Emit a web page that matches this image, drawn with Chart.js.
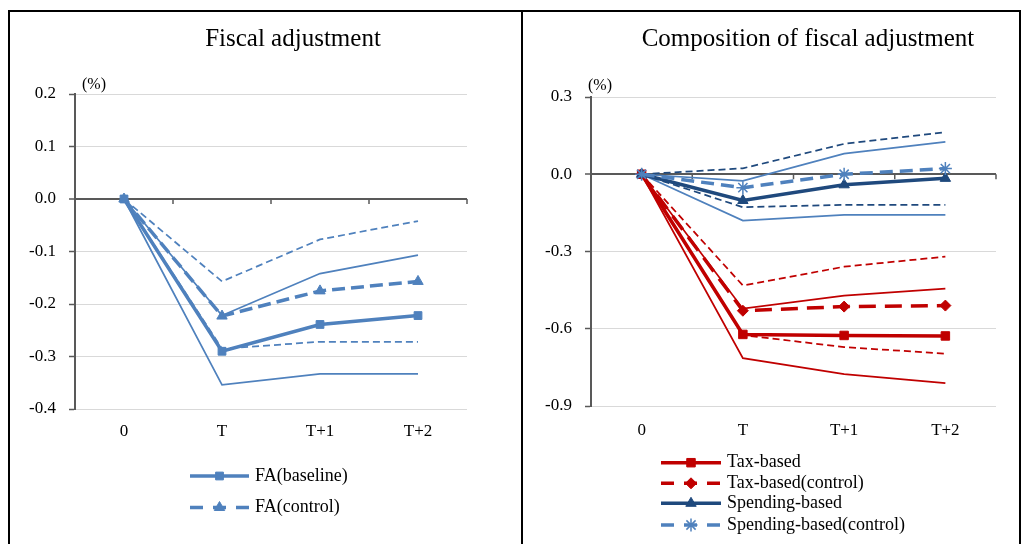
<!DOCTYPE html>
<html>
<head>
<meta charset="utf-8">
<script src="https://cdn.jsdelivr.net/npm/chart.js@4.4.0/dist/chart.umd.min.js"></script>
<style>
  body { margin: 0; background: #fff; width: 1023px; height: 544px; overflow: hidden; position: relative; font-family: 'Liberation Serif', 'Times New Roman', serif; }
  .rule { position: absolute; background: #000; }
  .box { position: absolute; }
  .title { position: absolute; width: 400px; text-align: center; font-size: 25px; line-height: 25px; color: #000; }
  .unit { position: absolute; font-size: 16px; line-height: 16px; color: #000; }
</style>
</head>
<body>
<div class="rule" style="left:8px;top:10px;width:1013px;height:2px"></div>
<div class="rule" style="left:8px;top:10px;width:2px;height:534px"></div>
<div class="rule" style="left:521px;top:10px;width:2px;height:534px"></div>
<div class="rule" style="left:1019px;top:10px;width:2px;height:534px"></div>

<div class="box" style="left:10px;top:12px;width:511px;height:532px"><canvas id="leftChart"></canvas></div>
<div class="box" style="left:523px;top:12px;width:496px;height:532px"><canvas id="rightChart"></canvas></div>

<div class="title" style="left:93px;top:25px">Fiscal adjustment</div>
<div class="title" style="left:608px;top:25px">Composition of fiscal adjustment</div>
<div class="unit" style="left:82px;top:76px">(%)</div>
<div class="unit" style="left:588px;top:77px">(%)</div>

<script>
// ========== DATA ==========
const categories = ['0', 'T', 'T+1', 'T+2'];

// left panel: fiscal adjustment
const faBaseline      = [0, -0.290, -0.239, -0.222];
const faBaselineUpper = [0, -0.222, -0.142, -0.107];
const faBaselineLower = [0, -0.354, -0.333, -0.333];
const faControl       = [0, -0.223, -0.175, -0.157];
const faControlUpper  = [0, -0.157, -0.077, -0.042];
const faControlLower  = [0, -0.285, -0.272, -0.272];

// right panel: composition
const taxBased          = [0, -0.622, -0.626, -0.628];
const taxBasedUpper     = [0, -0.522, -0.471, -0.444];
const taxBasedLower     = [0, -0.714, -0.776, -0.811];
const taxControl        = [0, -0.530, -0.514, -0.510];
const taxControlUpper   = [0, -0.432, -0.359, -0.320];
const taxControlLower   = [0, -0.625, -0.671, -0.697];
const spendBased        = [0, -0.102, -0.041, -0.016];
const spendBasedUpper   = [0, -0.026, 0.080, 0.126];
const spendBasedLower   = [0, -0.180, -0.158, -0.158];
const spendControl      = [0, -0.052, 0.000, 0.022];
const spendControlUpper = [0, 0.023, 0.118, 0.163];
const spendControlLower = [0, -0.128, -0.119, -0.119];

const leftTicks  = { min: -0.4, max: 0.2, step: 0.1 };
const rightTicks = { min: -0.9, max: 0.3, step: 0.3 };

// ========== STYLE ==========
const SERIF = "'Liberation Serif', 'Times New Roman', serif";
const LIGHT_BLUE = '#4F81BD';
const NAVY = '#1F497D';
const RED = '#C00000';
const AXIS = '#595959';

function series(label, data, color, width, dash, marker, size) {
  return {
    label: label,
    data: data,
    borderColor: color,
    backgroundColor: color,
    borderWidth: width,
    borderDash: dash || [],
    pointStyle: marker || 'circle',
    pointRadius: marker ? size : 0,
    pointHoverRadius: marker ? size : 0,
    pointBorderWidth: marker === 'star' ? 1.5 : 1,
    tension: 0,
    fill: false
  };
}

const isZero = v => Math.abs(v) < 1e-9;

// small tick marks on the zero line at category boundaries
const axisMarks = {
  id: 'axisMarks',
  beforeDatasetsDraw(chart) {
    const { ctx, scales: { x, y } } = chart;
    const y0 = y.getPixelForValue(0);
    ctx.save();
    ctx.strokeStyle = AXIS;
    ctx.lineWidth = 1.5;
    for (let i = 1; i <= categories.length; i++) {
      const px = x.getPixelForValue(i - 0.5);
      ctx.beginPath();
      ctx.moveTo(px, y0);
      ctx.lineTo(px, y0 + 5);
      ctx.stroke();
    }
    ctx.restore();
  }
};

// legend with line sample + marker, like the excel one
const panelLegend = {
  id: 'panelLegend',
  afterDraw(chart, args, opts) {
    const ctx = chart.ctx;
    opts.items.forEach((idx, i) => {
      const ds = chart.data.datasets[idx];
      const y = opts.rows[i];
      ctx.save();
      ctx.strokeStyle = ds.borderColor;
      ctx.lineWidth = ds.borderWidth;
      ctx.setLineDash(opts.dashes[i]);
      ctx.beginPath();
      ctx.moveTo(opts.x0, y);
      ctx.lineTo(opts.x1, y);
      ctx.stroke();
      ctx.setLineDash([]);
      ctx.fillStyle = ds.backgroundColor;
      ctx.lineWidth = ds.pointBorderWidth;
      if (Chart.helpers && Chart.helpers.drawPoint) {
        Chart.helpers.drawPoint(ctx, {
          pointStyle: ds.pointStyle, radius: ds.pointRadius, rotation: 0, borderWidth: ds.pointBorderWidth
        }, (opts.x0 + opts.x1) / 2, y);
      }
      ctx.fillStyle = '#000';
      ctx.font = '18px ' + SERIF;
      ctx.textBaseline = 'middle';
      ctx.textAlign = 'left';
      ctx.fillText(ds.label, opts.textX, y);
      ctx.restore();
    });
  }
};

function makeOptions(t, yWidth, padding, labelPad, legend) {
  return {
    responsive: true,
    maintainAspectRatio: false,
    animation: false,
    layout: { padding: padding },
    plugins: {
      legend: { display: false },
      tooltip: { enabled: false },
      panelLegend: legend
    },
    scales: {
      x: {
        offset: true,
        grid: { display: false, drawTicks: false },
        border: { display: false },
        ticks: { color: '#000', font: { family: SERIF, size: 17 }, padding: labelPad, maxRotation: 0 },
        afterFit: s => { s.height = 40; }
      },
      y: {
        min: t.min,
        max: t.max,
        grid: {
          color: c => (c.tick && isZero(c.tick.value)) ? AXIS : '#d9d9d9',
          lineWidth: c => (c.tick && isZero(c.tick.value)) ? 2 : 1,
          tickColor: AXIS,
          tickLength: 6,
          tickWidth: 1.5
        },
        border: { display: true, color: AXIS, width: 2 },
        ticks: {
          stepSize: t.step,
          color: '#000',
          padding: 13,
          font: { family: SERIF, size: 17 },
          callback: v => (isZero(v) ? 0 : v).toFixed(1)
        },
        afterFit: s => { s.width = yWidth; }
      }
    }
  };
}

// ========== LEFT CHART ==========
new Chart(document.getElementById('leftChart'), {
  type: 'line',
  data: {
    labels: categories,
    datasets: [
      series('FA(baseline)', faBaseline, LIGHT_BLUE, 3.5, null, 'rect', 5.5),
      series('FA(control)', faControl, LIGHT_BLUE, 3.5, [13, 6], 'triangle', 6),
      series('', faBaselineUpper, LIGHT_BLUE, 1.75),
      series('', faBaselineLower, LIGHT_BLUE, 1.75),
      series('', faControlUpper, LIGHT_BLUE, 1.75, [7, 4]),
      series('', faControlLower, LIGHT_BLUE, 1.75, [7, 4])
    ]
  },
  options: makeOptions(leftTicks, 65, { left: 0, right: 54, top: 82, bottom: 95 }, 12, {
    items: [0, 1],
    rows: [464, 495.5],
    dashes: [[], [13, 10]],
    x0: 180, x1: 239, textX: 245
  }),
  plugins: [axisMarks, panelLegend]
});

// ========== RIGHT CHART ==========
new Chart(document.getElementById('rightChart'), {
  type: 'line',
  data: {
    labels: categories,
    datasets: [
      series('Spending-based(control)', spendControl, LIGHT_BLUE, 3.5, [13, 7], 'star', 6.5),
      series('Spending-based', spendBased, NAVY, 3.5, null, 'triangle', 6),
      series('Tax-based(control)', taxControl, RED, 3.5, [17, 9], 'rectRot', 5.5),
      series('Tax-based', taxBased, RED, 3.5, null, 'rect', 6),
      series('', spendControlUpper, NAVY, 1.75, [7, 4]),
      series('', spendControlLower, NAVY, 1.75, [7, 4]),
      series('', spendBasedUpper, LIGHT_BLUE, 1.75),
      series('', spendBasedLower, LIGHT_BLUE, 1.75),
      series('', taxControlUpper, RED, 1.75, [7, 4]),
      series('', taxControlLower, RED, 1.75, [7, 4]),
      series('', taxBasedUpper, RED, 1.75),
      series('', taxBasedLower, RED, 1.75)
    ]
  },
  options: makeOptions(rightTicks, 68, { left: 0, right: 23, top: 85, bottom: 98 }, 14, {
    items: [3, 2, 1, 0],
    rows: [450.7, 471.3, 491.3, 513],
    dashes: [[], [13, 10], [], [13, 10]],
    x0: 138, x1: 198, textX: 204
  }),
  plugins: [axisMarks, panelLegend]
});
</script>
</body>
</html>
